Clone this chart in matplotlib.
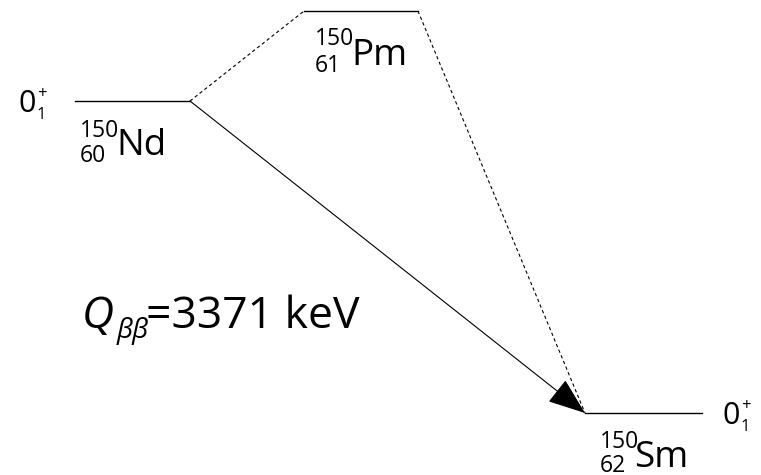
import numpy as np
import matplotlib
matplotlib.use("Agg")
import matplotlib.pyplot as plt
from matplotlib.patches import FancyArrowPatch

plt.rcParams['font.family'] = ['Open Sans', 'DejaVu Sans']

# level scheme (energies in keV relative to 150Sm ground state)
nuclides = ['Nd', 'Pm', 'Sm']
mass_numbers = ['150', '150', '150']
atomic_numbers = ['60', '61', '62']
level_energy = [3371, 4343, 0]
level_x0 = [75, 304, 585]
level_x1 = [190, 418, 702]
spin_labels = ['0', '0']        # for Nd and Sm
spin_sub = ['1', '1']
spin_sup = ['+', '+']
q_value = 3371

W, H = 761, 475
fig = plt.figure(figsize=(W / 100, H / 100), dpi=100)
ax = fig.add_axes([0, 0, 1, 1])
kev_per_px = 3371 / 312.0
ax.set_xlim(0, W)
ax.set_ylim(-62 * kev_per_px, 413 * kev_per_px)
ax.axis('off')

def px(x, y):
    # pixel (from top-left) -> figure fraction
    return x / W, 1 - y / H

def ypx(e):
    return 413 - e / kev_per_px

# level lines
for i in range(3):
    ax.plot([level_x0[i], level_x1[i]], [level_energy[i]] * 2, color='black', lw=1.0)

# virtual path through Pm (dashed)
ax.plot([level_x1[0], level_x0[1]], [level_energy[0], level_energy[1]],
        color='black', lw=0.8, ls=(0, (3, 2.5)))
ax.plot([level_x1[1], level_x0[2]], [level_energy[1], level_energy[2]],
        color='black', lw=0.8, ls=(0, (3, 2.5)))

# direct double beta arrow
arr = FancyArrowPatch((level_x1[0], level_energy[0]), (level_x0[2], level_energy[2]),
                      arrowstyle='-|>,head_length=1.2,head_width=0.45',
                      mutation_scale=20, color='black', lw=0.8,
                      shrinkA=0, shrinkB=0)
ax.add_patch(arr)

# nuclide labels (pixel offsets from left end of level)
# (mass x, mass baseline, Z baseline, symbol x, symbol baseline)
off = [(5, 36, 61, 44, 54), (11, 34, 61, 50, 54), (15, 35, 59, 52, 54)]
for i in range(3):
    x0 = level_x0[i]
    y0 = ypx(level_energy[i])
    dx, ym, yz, ds, ysb = off[i]
    fig.text(*px(x0 + dx, y0 + ym), mass_numbers[i], fontsize=16.5, va='baseline', ha='left')
    fig.text(*px(x0 + dx, y0 + yz), atomic_numbers[i], fontsize=16.5, va='baseline', ha='left')
    fig.text(*px(x0 + ds - 3, y0 + ysb), nuclides[i], fontsize=26.5, va='baseline', ha='left')

# spin-parity labels
for j, (xs, e) in enumerate([(18, level_energy[0]), (722, level_energy[2])]):
    y0 = ypx(e)
    fig.text(*px(xs, y0 + 11), spin_labels[j], fontsize=22, va='baseline', ha='left')
    fig.text(*px(xs + 19, y0 - 3), spin_sup[j], fontsize=12, va='baseline', ha='left')
    fig.text(*px(xs + 19, y0 + 18), spin_sub[j], fontsize=12, va='baseline', ha='left')

# Q value
fig.text(*px(82, 328), 'Q', fontsize=32, style='italic', va='baseline', ha='left')
fig.text(*px(117, 338), '\u03b2\u03b2', fontsize=20, style='italic', va='baseline', ha='left')
fig.text(*px(146, 328), '=%d keV' % q_value, fontsize=32, va='baseline', ha='left')

fig.savefig('out.png', dpi=100)
